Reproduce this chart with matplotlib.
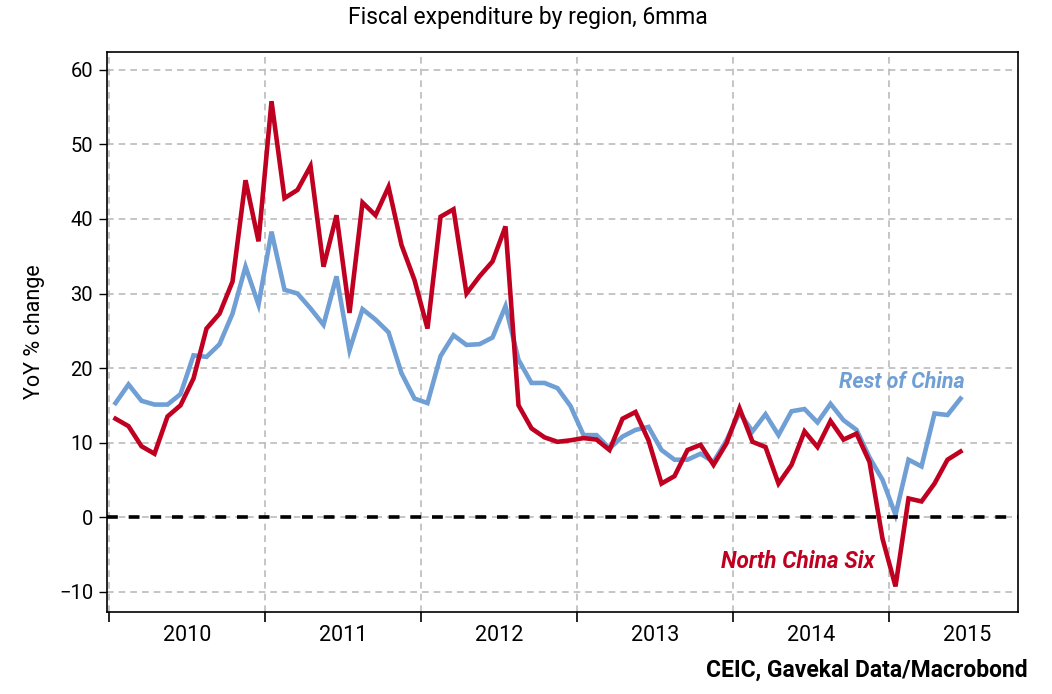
import matplotlib
matplotlib.use('Agg')
import matplotlib.pyplot as plt
import numpy as np

plt.rcParams['font.family'] = ['Roboto', 'DejaVu Sans']

# monthly, Jan 2010 .. Jun 2015 (6mma, YoY %)
north_china_six = [13.2, 12.2, 9.5, 8.5, 13.5, 15.0, 18.6, 25.3, 27.3, 31.6, 45.2, 37.0,
                   55.8, 42.8, 43.9, 47.1, 33.6, 40.5, 27.4, 42.2, 40.5, 44.3, 36.5, 31.8,
                   25.3, 40.3, 41.3, 30.0, 32.3, 34.3, 39.0, 15.0, 11.9, 10.7, 10.1, 10.3,
                   10.6, 10.4, 9.0, 13.2, 14.1, 10.3, 4.5, 5.5, 9.0, 9.7, 7.0, 9.9,
                   14.6, 10.1, 9.4, 4.5, 7.0, 11.5, 9.4, 12.9, 10.4, 11.2, 7.4, -2.9,
                   -9.3, 2.5, 2.1, 4.5, 7.7, 8.8]
rest_of_china = [15.3, 17.8, 15.6, 15.1, 15.1, 16.5, 21.7, 21.5, 23.2, 27.3, 33.6, 28.5,
                 38.3, 30.5, 30.0, 28.0, 25.8, 32.3, 22.4, 27.9, 26.5, 24.8, 19.3, 15.9,
                 15.3, 21.6, 24.4, 23.1, 23.2, 24.1, 28.3, 21.1, 18.0, 18.0, 17.3, 14.9,
                 11.0, 11.0, 9.2, 10.8, 11.7, 12.1, 9.0, 7.7, 7.7, 8.5, 7.4, 10.3,
                 14.0, 11.5, 13.8, 11.0, 14.2, 14.5, 12.7, 15.2, 13.0, 11.7, 8.0, 5.0,
                 0.3, 7.7, 6.8, 13.9, 13.7, 15.9]
years = [2010, 2011, 2012, 2013, 2014, 2015]

x = 2010 + (np.arange(len(north_china_six)) + 0.5) / 12

red = '#C00020'
blue = '#6F9FD4'

fig = plt.figure(figsize=(10.52, 6.94), dpi=100)
ax = fig.add_axes([0.1017, 0.118, 0.866, 0.807])

ax.plot(x, rest_of_china, color=blue, lw=3.3, solid_joinstyle='miter', zorder=3)
ax.plot(x, north_china_six, color=red, lw=3.3, solid_joinstyle='miter', zorder=4)
ax.axhline(0, color='black', lw=2.6, ls=(0, (3, 3)), zorder=5)

ax.set_xlim(2009.987, 2015.827)
ax.set_ylim(-12.75, 62.4)

ax.set_yticks(np.arange(-10, 61, 10))
ax.set_yticklabels(['\u221210' if v < 0 else str(v) for v in range(-10, 61, 10)])
ax.tick_params(axis='y', direction='out', length=6, width=1, labelsize=14.5, pad=4)

ax.set_xticks(years)
ax.set_xticklabels([])
ax.set_xticks([y + 0.5 for y in years], minor=True)
ax.set_xticklabels([str(y) for y in years], minor=True)
ax.tick_params(axis='x', which='major', direction='out', length=7, width=1.2)
ax.tick_params(axis='x', which='minor', length=0, labelsize=15.5, pad=9)

ax.grid(True, which='major', color='#BBBBBB', ls=(0, (4, 3)), lw=1.2)

for s in ax.spines.values():
    s.set_color('black')
    s.set_linewidth(1.2)

ax.set_ylabel('YoY % change', fontsize=15.5, labelpad=10)
fig.text(0.502, 0.975, 'Fiscal expenditure by region, 6mma', ha='center', va='center', fontsize=16.5)

ax.text(2015.487, 18.1, 'Rest of China', color=blue, fontsize=15.5, style='italic',
        fontweight='bold', ha='right', va='center')
ax.text(2014.91, -6.0, 'North China Six', color=red, fontsize=16.3, style='italic',
        fontweight='bold', ha='right', va='center')

fig.text(0.977, 0.017, 'CEIC, Gavekal Data/Macrobond', ha='right', va='bottom',
         fontsize=16.5, fontweight='bold')

fig.savefig('out.png', dpi=100)
